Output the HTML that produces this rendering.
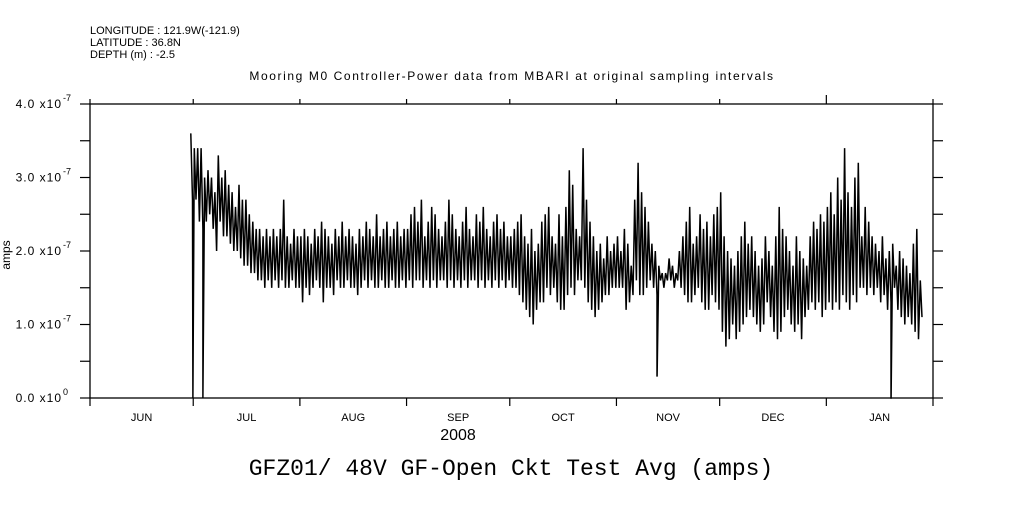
<!DOCTYPE html>
<html><head><meta charset="utf-8"><style>
body{margin:0;background:#fff;}
svg text{font-family:"Liberation Sans",sans-serif;fill:#000;}
</style></head><body>
<svg width="1009" height="504" viewBox="0 0 1009 504" id="chart">
<g font-size="11">
<text x="90" y="34">LONGITUDE : 121.9W(-121.9)</text>
<text x="90" y="46">LATITUDE : 36.8N</text>
<text x="90" y="58">DEPTH (m) : -2.5</text>
</g>
<text x="512" y="80" font-size="12" letter-spacing="1.6" text-anchor="middle">Mooring M0 Controller-Power data from MBARI at original sampling intervals</text>
<text x="10" y="255" font-size="12" text-anchor="middle" transform="rotate(-90 10 255)">amps</text>
<text x="458" y="440" font-size="16" text-anchor="middle">2008</text>
<text x="511" y="475" font-size="23" text-anchor="middle" style="font-family:'Liberation Mono',monospace">GFZ01/ 48V GF-Open Ckt Test Avg (amps)</text>
<g id="axes"></g>
<g id="series"></g>
</svg>
<script>
const monthNames=["JUN","JUL","AUG","SEP","OCT","NOV","DEC","JAN"];
const monthLengths=[30,31,31,30,31,30,31,31];
const yTickValues=[0,1,2,3,4];
const yTickLabels=["0.0 x10","1.0 x10","2.0 x10","3.0 x10","4.0 x10"];
const yTickExps=["0","-7","-7","-7","-7"];
const dayStart=29;
const highs=[36,34,34,34,30,31,30,28,33,30,
31,29,28,26,29,27,27,25,24,23,
23,22,23,22,23,22,23,27,22,21,23,22,
22,23,22,21,23,22,24,23,22,21,23,22,24,22,23,22,21,23,22,24,23,22,25,22,23,24,22,23,24,22,23,
23,25,26,24,27,22,24,26,25,23,22,24,27,25,23,22,24,26,23,22,25,24,26,23,22,24,25,23,24,22,
22,23,24,25,22,21,23,20,21,24,25,26,22,21,25,22,26,31,29,23,22,34,27,24,22,20,21,19,22,20,21,
22,20,23,21,18,27,32,28,26,24,21,20,18,17,17,19,18,17,20,22,24,26,21,22,25,23,24,22,25,26,
28,22,20,19,18,20,22,24,21,22,20,18,19,22,20,18,22,26,23,22,20,18,22,20,19,18,22,24,23,25,24,
26,28,25,30,27,34,28,26,30,32,22,26,24,22,21,20,22,19,20,21,18,20,19,18,17,21,23,16];
const lows=[27,27,24,23,24,25,23,20,24,22,
22,21,20,20,19,18,18,17,17,16,
16,15,16,15,16,15,16,15,15,16,15,15,
13,15,14,15,16,15,13,15,15,14,16,15,15,16,15,15,14,15,16,15,16,15,15,16,15,15,16,15,15,16,15,
16,15,16,16,15,16,15,16,15,16,16,15,16,15,16,15,16,15,16,16,15,16,15,16,15,16,15,16,15,16,
15,15,14,13,12,11,10,12,13,13,15,14,15,13,12,12,14,15,14,16,16,15,13,12,11,12,13,14,14,15,15,
15,15,12,13,14,16,14,14,15,16,15,14,16,15,16,16,15,16,15,14,13,13,14,15,13,12,12,14,13,12,
9,7,8,10,8,9,10,11,12,11,10,9,10,13,11,9,8,9,11,12,10,9,10,8,11,12,13,12,13,11,12,
13,12,13,12,14,13,12,14,13,15,15,14,15,14,15,13,14,12,13,15,12,11,10,11,10,9,8,11];
const dropoutDays=[29.9,32.8,164.8,232.8];
const dropoutVals=[0,0,3,0];

const L=90,R=933,T=104,B=398,totalDays=245;
const xs=d=>L+d*(R-L)/totalDays;
const ys=v=>B-v*(B-T)/40; // v in 1e-8
const NS="http://www.w3.org/2000/svg";
const axes=document.getElementById('axes');
function mk(tag,attrs,parent){const e=document.createElementNS(NS,tag);for(const k in attrs)e.setAttribute(k,attrs[k]);parent.appendChild(e);return e;}
let fr=mk('rect',{x:L,y:T,width:R-L,height:B-T,fill:'none',stroke:'#000','stroke-width':1.3},axes);


for(let i=0;i<=8;i++){const y=ys(i*5);
 let t=mk('line',{x1:L-10,x2:L,y1:y,y2:y,stroke:'#000','stroke-width':1.2},axes);
 
 
 let t2=mk('line',{x1:R,x2:R+10,y1:y,y2:y,stroke:'#000','stroke-width':1.2},axes);
 
 }
yTickValues.forEach((v,i)=>{const y=ys(v*10);
 const tx=mk('text',{x:62,y:y+4,'font-size':12,'letter-spacing':'1','text-anchor':'end'},axes);
 tx.textContent=yTickLabels[i];
 
 
 const ex=mk('text',{x:63,y:y-3,'font-size':9},axes);
 ex.textContent=yTickExps[i];
 
 });
let d=0;
for(let i=0;i<=monthNames.length;i++){const x=xs(d);
 let bt=mk('line',{x1:x,x2:x,y1:B,y2:B+8,stroke:'#000','stroke-width':1.2},axes);
 
 
 let tt=mk('line',{x1:x,x2:x,y1:T-(i==7?9:5),y2:T,stroke:'#000','stroke-width':1.2},axes);
 
 
 if(i<monthNames.length){const lab=mk('text',{x:xs(d+monthLengths[i]/2),y:421,'font-size':11,'text-anchor':'middle'},axes);
  lab.textContent=monthNames[i];
  
  
  d+=monthLengths[i];}}
let pts=[];
highs.forEach((h,i)=>{pts.push([dayStart+i+0.3,h]);pts.push([dayStart+i+0.8,lows[i]]);});
dropoutDays.forEach((dd,i)=>{pts.push([dd,dropoutVals[i]]);pts.push([dd+0.02,dropoutVals[i]]);});
pts.sort((a,b)=>a[0]-b[0]);
const dstr=pts.map((p,i)=>(i?'L':'M')+xs(p[0]).toFixed(1)+' '+ys(p[1]).toFixed(1)).join('');
const pth=mk('path',{d:dstr,fill:'none',stroke:'#000','stroke-width':1.5},document.getElementById('series'));


</script>
</body></html>
